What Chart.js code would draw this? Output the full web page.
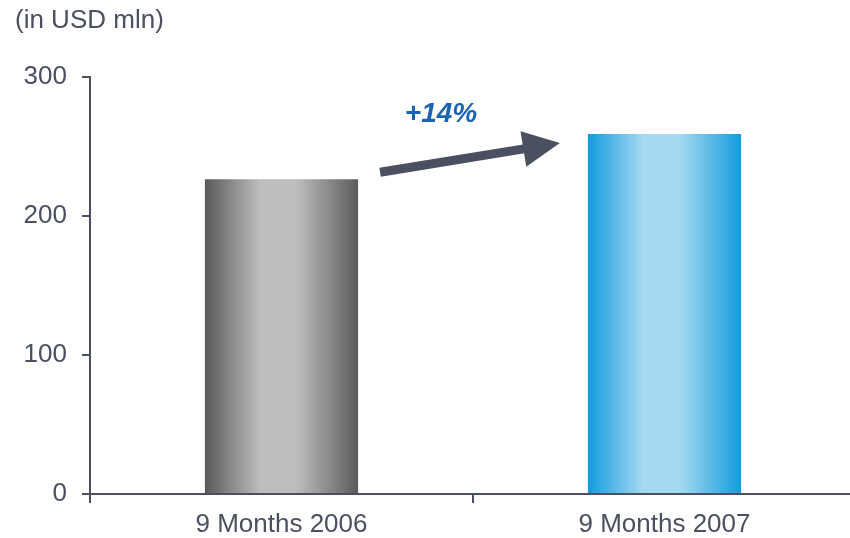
<!DOCTYPE html>
<html lang="en">
<head>
  <meta charset="UTF-8" />
  <title>9 Months comparison</title>
  <script src="https://cdn.jsdelivr.net/npm/chart.js"></script>
  <style>
    *{margin:0;padding:0;box-sizing:border-box}
    html,body{width:850px;height:538px;overflow:hidden;background:#fff;font-family:"Liberation Sans",Arial,sans-serif}
    .wrap{position:relative;width:856px;height:538px}
  </style>
</head>
<body>
  <div class="wrap"><canvas id="chart"></canvas></div>

  <script>
    // data
    const categories = ['9 Months 2006', '9 Months 2007'];
    const values = [226.5, 259];
    const yTicks = [0, 100, 200, 300];
    const unitLabel = '(in USD mln)';

    const ink = '#4b5060';
    const font = '"Liberation Sans", Arial, sans-serif';
    const barStops = [
      ['#595959', '#bdbdbd', '#bdbdbd', '#5b5b5b'],
      ['#129bdf', '#a4d9f1', '#a4d9f1', '#149cde']
    ];

    // horizontal gradient across each bar
    function barFill(c) {
      const chart = c.chart;
      const s = barStops[c.dataIndex] || barStops[0];
      const x = chart.scales.x;
      if (!chart.chartArea || !x) return s[0];
      const mid = x.getPixelForValue(c.dataIndex);
      const w = (x.width / categories.length) * 0.4;
      const g = chart.ctx.createLinearGradient(mid - w / 2, 0, mid + w / 2, 0);
      g.addColorStop(0, s[0]);
      g.addColorStop(0.36, s[1]);
      g.addColorStop(0.6, s[2]);
      g.addColorStop(1, s[3]);
      return g;
    }

    // unit caption + growth arrow
    const decor = {
      id: 'decor',
      afterDraw(chart) {
        const ctx = chart.ctx;
        const y = chart.scales.y;
        const bars = chart.getDatasetMeta(0).data;
        ctx.save();
        ctx.fillStyle = ink;
        ctx.font = '26px ' + font;
        ctx.textBaseline = 'middle';
        ctx.fillText(unitLabel, 15, 21);

        const x0 = bars[0].x + bars[0].width / 2 + 22;
        const y0 = y.getPixelForValue(values[0] + 5);
        const x1 = bars[1].x - bars[1].width / 2 - 28;
        const y1 = y.getPixelForValue(values[1] - 6.5);
        const ang = Math.atan2(y1 - y0, x1 - x0);
        const head = 37, half = 18;
        const bx = x1 - head * Math.cos(ang), by = y1 - head * Math.sin(ang);
        ctx.strokeStyle = ink;
        ctx.lineWidth = 9;
        ctx.beginPath();
        ctx.moveTo(x0, y0);
        ctx.lineTo(bx + 2 * Math.cos(ang), by + 2 * Math.sin(ang));
        ctx.stroke();
        ctx.beginPath();
        ctx.moveTo(x1, y1);
        ctx.lineTo(bx - half * Math.sin(ang), by + half * Math.cos(ang));
        ctx.lineTo(bx + half * Math.sin(ang), by - half * Math.cos(ang));
        ctx.closePath();
        ctx.fill();

        const pct = Math.round((values[1] / values[0] - 1) * 100);
        ctx.fillStyle = '#1a62b3';
        ctx.font = 'italic bold 28px ' + font;
        ctx.textAlign = 'center';
        ctx.fillText('+' + pct + '%', (x0 + x1) / 2 - 29, y.getPixelForValue(273));
        ctx.restore();
      }
    };

    new Chart(document.getElementById('chart'), {
      type: 'bar',
      data: {
        labels: categories,
        datasets: [{ data: values, backgroundColor: barFill, borderWidth: 0,
          barPercentage: 0.4, categoryPercentage: 1 }]
      },
      options: {
        responsive: true,
        maintainAspectRatio: false,
        animation: false,
        layout: { padding: { top: 77, left: 22, right: 0, bottom: 0 } },
        plugins: { legend: { display: false }, tooltip: { enabled: false }, title: { display: false } },
        scales: {
          x: {
            grid: { drawOnChartArea: false, color: ink, lineWidth: 2, tickLength: 9, offset: true },
            border: { color: ink, width: 2 },
            ticks: { color: ink, font: { size: 26, family: font }, padding: 6 },
            afterFit(s) { s.height = 44; }
          },
          y: {
            min: 0, max: 300,
            afterBuildTicks(s) { s.ticks = yTicks.map(v => ({ value: v })); },
            grid: { drawOnChartArea: false, color: ink, lineWidth: 2, tickLength: 8 },
            border: { color: ink, width: 2 },
            ticks: { color: ink, font: { size: 26, family: font }, padding: 15 },
            afterFit(s) { s.width = 68; }
          }
        }
      },
      plugins: [decor]
    });
  </script>
</body>
</html>
